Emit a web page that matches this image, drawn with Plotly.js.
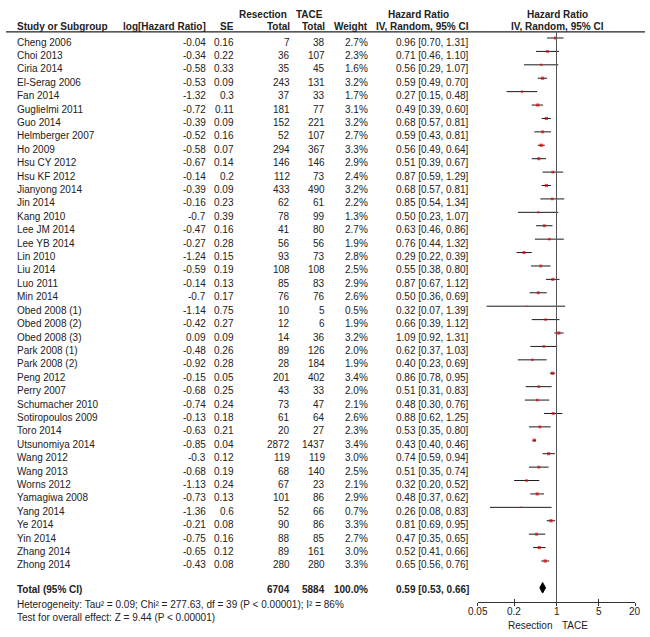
<!DOCTYPE html>
<html>
<head>
<meta charset="utf-8">
<script src="https://cdn.plot.ly/plotly-3.0.1.min.js"></script>
<style>html,body{margin:0;padding:0;background:#fff;}#chart{width:650px;height:637px;}</style>
</head>
<body>
<div id="chart"></div>
<script>
const studies = ["Cheng 2006","Choi 2013","Ciria 2014","El-Serag 2006","Fan 2014","Guglielmi 2011","Guo 2014","Helmberger 2007","Ho 2009","Hsu CY 2012","Hsu KF 2012","Jianyong 2014","Jin 2014","Kang 2010","Lee JM 2014","Lee YB 2014","Lin 2010","Liu 2014","Luo 2011","Min 2014","Obed 2008 (1)","Obed 2008 (2)","Obed 2008 (3)","Park 2008 (1)","Park 2008 (2)","Peng 2012","Perry 2007","Schumacher 2010","Sotiropoulos 2009","Toro 2014","Utsunomiya 2014","Wang 2012","Wang 2013","Worns 2012","Yamagiwa 2008","Yang 2014","Ye 2014","Yin 2014","Zhang 2014","Zhong 2014"];
const logHR = [-0.04,-0.34,-0.58,-0.53,-1.32,-0.72,-0.39,-0.52,-0.58,-0.67,-0.14,-0.39,-0.16,-0.7,-0.47,-0.27,-1.24,-0.59,-0.14,-0.7,-1.14,-0.42,0.09,-0.48,-0.92,-0.15,-0.68,-0.74,-0.13,-0.63,-0.85,-0.3,-0.68,-1.13,-0.73,-1.36,-0.21,-0.75,-0.65,-0.43];
const se = [0.16,0.22,0.33,0.09,0.3,0.11,0.09,0.16,0.07,0.14,0.2,0.09,0.23,0.39,0.16,0.28,0.15,0.19,0.13,0.17,0.75,0.27,0.09,0.26,0.28,0.05,0.25,0.24,0.18,0.21,0.04,0.12,0.19,0.24,0.13,0.6,0.08,0.16,0.12,0.08];
const resectionTotal = [7,36,35,243,37,181,152,52,294,146,112,433,62,78,41,56,93,108,85,76,10,12,14,89,28,201,43,73,61,20,2872,119,68,67,101,52,90,88,89,280];
const taceTotal = [38,107,45,131,33,77,221,107,367,146,73,490,61,99,80,56,73,108,83,76,5,6,36,126,184,402,33,47,64,27,1437,119,140,23,86,66,86,85,161,280];
const weight = [2.7,2.3,1.6,3.2,1.7,3.1,3.2,2.7,3.3,2.9,2.4,3.2,2.2,1.3,2.7,1.9,2.8,2.5,2.9,2.6,0.5,1.9,3.2,2.0,1.9,3.4,2.0,2.1,2.6,2.3,3.4,3.0,2.5,2.1,2.9,0.7,3.3,2.7,3.0,3.3];
const hr = [0.96,0.71,0.56,0.59,0.27,0.49,0.68,0.59,0.56,0.51,0.87,0.68,0.85,0.50,0.63,0.76,0.29,0.55,0.87,0.50,0.32,0.66,1.09,0.62,0.40,0.86,0.51,0.48,0.88,0.53,0.43,0.74,0.51,0.32,0.48,0.26,0.81,0.47,0.52,0.65];
const ciLow = [0.70,0.46,0.29,0.49,0.15,0.39,0.57,0.43,0.49,0.39,0.59,0.57,0.54,0.23,0.46,0.44,0.22,0.38,0.67,0.36,0.07,0.39,0.92,0.37,0.23,0.78,0.31,0.30,0.62,0.35,0.40,0.59,0.35,0.20,0.37,0.08,0.69,0.35,0.41,0.56];
const ciHigh = [1.31,1.10,1.07,0.70,0.48,0.60,0.81,0.81,0.64,0.67,1.29,0.81,1.34,1.07,0.86,1.32,0.39,0.80,1.12,0.69,1.39,1.12,1.31,1.03,0.69,0.95,0.83,0.76,1.25,0.80,0.46,0.94,0.74,0.52,0.62,0.83,0.95,0.65,0.66,0.76];
const totalResection = 6704;
const totalTace = 5884;
const totalWeight = "100.0%";
const totalHR = 0.59, totalLow = 0.53, totalHigh = 0.66;
const heterogeneityText = "Heterogeneity: Tau² = 0.09; Chi² = 277.63, df = 39 (P < 0.00001); I² = 86%";
const overallText = "Test for overall effect: Z = 9.44 (P < 0.00001)";
const tickVals = [0.05, 0.2, 1, 5, 20];
const tickLabels = ["0.05", "0.2", "1", "5", "20"];

const W = 650, H = 637;
const TXT = '#222';
const FONT = 'Liberation Sans, Arial, sans-serif';
const FS = 10;
const px = v => v / W;
const py = v => 1 - v / H;
const rowIdx = studies.map((_, i) => i);
const totalRow = studies.length + 1;

const annotations = [];
function addText(text, x, y, anchor, opts) {
  opts = opts || {};
  annotations.push({
    text: text,
    x: opts.xref === 'x' ? x : px(x), xref: opts.xref || 'paper',
    y: opts.yref === 'y' ? y : py(y), yref: opts.yref || 'paper',
    xanchor: anchor, yanchor: 'middle', showarrow: false,
    yshift: opts.yshift || 0,
    borderpad: 0, borderwidth: 0,
    font: {family: FONT, size: opts.size || FS, color: TXT}
  });
}
// headers
const b = s => '<b>' + s + '</b>';
addText(b('Resection'), 239, 14, 'left');
addText(b('TACE'), 296, 14, 'left');
addText(b('Hazard Ratio'), 418, 14, 'center');
addText(b('Hazard Ratio'), 557, 14, 'center');
addText(b('Study or Subgroup'), 17, 27, 'left');
addText(b('log[Hazard Ratio]'), 206, 27, 'right');
addText(b('SE'), 234, 27, 'right');
addText(b('Total'), 290, 27, 'right');
addText(b('Total'), 325, 27, 'right');
addText(b('Weight'), 368, 27, 'right');
addText(b('IV, Random, 95% CI'), 469, 27, 'right');
addText(b('IV, Random, 95% CI'), 557, 27, 'center');

const ys = -4;
rowIdx.forEach(i => {
  const o = {yref: 'y', yshift: ys};
  addText(studies[i], 17, i, 'left', o);
  addText(String(logHR[i]), 206, i, 'right', o);
  addText(String(se[i]), 234, i, 'right', o);
  addText(String(resectionTotal[i]), 290, i, 'right', o);
  addText(String(taceTotal[i]), 325, i, 'right', o);
  addText(weight[i].toFixed(1) + '%', 368, i, 'right', o);
  addText(hr[i].toFixed(2) + ' [' + ciLow[i].toFixed(2) + ', ' + ciHigh[i].toFixed(2) + ']', 469, i, 'right', o);
});
const ot = {yref: 'y', yshift: -2};
addText(b('Total (95% CI)'), 17, totalRow, 'left', ot);
addText(b(String(totalResection)), 290, totalRow, 'right', ot);
addText(b(String(totalTace)), 325, totalRow, 'right', ot);
addText(b(totalWeight), 368, totalRow, 'right', ot);
addText(b(totalHR.toFixed(2) + ' [' + totalLow.toFixed(2) + ', ' + totalHigh.toFixed(2) + ']'), 469, totalRow, 'right', ot);
addText(heterogeneityText, 17, 604, 'left');
addText(overallText, 17, 617, 'left');
// tick labels (annotation x on a log axis is given in log10 units)
tickVals.forEach((v, k) => addText(tickLabels[k], Math.log10(v), 611.5, 'center', {xref: 'x'}));
addText('Resection', 552, 625, 'right');
addText('TACE', 562, 625, 'left');

const yTop = 32, yBot = 602;
const rowPitch = 13.41, row0 = 38;
const yRange = [(yBot - row0) / rowPitch, (yTop - row0) / rowPitch];
const xDomain = [px(477.7), px(635.3)];
const xRange = [Math.log10(tickVals[0]), Math.log10(tickVals[tickVals.length - 1])];

const studyTrace = {
  type: 'scatter', mode: 'markers', x: hr, y: rowIdx, xaxis: 'x', yaxis: 'y',
  marker: {symbol: 'square', color: '#e00000', size: weight.map(w => 1.8 * Math.sqrt(w)), line: {width: 0}},
  error_x: {type: 'data', symmetric: false,
    array: hr.map((h, i) => ciHigh[i] - h), arrayminus: hr.map((h, i) => h - ciLow[i]),
    width: 0, thickness: 1, color: '#1a1a1a'},
  hoverinfo: 'skip', showlegend: false, cliponaxis: false
};
const dh = 0.395;
const diamond = {
  type: 'scatter', mode: 'lines', xaxis: 'x', yaxis: 'y',
  x: [totalLow, totalHR, totalHigh, totalHR, totalLow],
  y: [totalRow, totalRow - dh, totalRow, totalRow + dh, totalRow],
  fill: 'toself', fillcolor: '#000', line: {color: '#000', width: 1},
  hoverinfo: 'skip', showlegend: false
};
const dummy2 = {type: 'scatter', mode: 'markers', x: [1], y: [0], xaxis: 'x2', yaxis: 'y',
  marker: {opacity: 0}, hoverinfo: 'skip', showlegend: false};

const layout = {
  width: W, height: H, margin: {l: 0, r: 0, t: 0, b: 0},
  paper_bgcolor: '#fff', plot_bgcolor: 'rgba(0,0,0,0)',
  showlegend: false,
  font: {family: FONT, size: FS, color: TXT},
  xaxis: {type: 'log', domain: xDomain, range: xRange, anchor: 'y',
    showgrid: false, zeroline: false, showline: true, linecolor: '#333', linewidth: 1,
    ticks: 'outside', ticklen: 3, tickwidth: 1, tickcolor: '#333',
    tickvals: tickVals, showticklabels: false, fixedrange: true},
  xaxis2: {type: 'log', domain: xDomain, range: xRange, anchor: 'y', overlaying: 'x',
    showgrid: false, zeroline: false, showline: false,
    ticks: 'inside', ticklen: 3, tickwidth: 1, tickcolor: '#333',
    tickvals: tickVals, showticklabels: false, fixedrange: true},
  yaxis: {domain: [py(yBot), py(yTop)], range: yRange, autorange: false,
    visible: false, showgrid: false, zeroline: false, fixedrange: true},
  shapes: [
    {type: 'line', xref: 'paper', yref: 'paper', x0: px(6), x1: px(645), y0: py(31.8), y1: py(31.8),
      line: {color: '#222', width: 1.2}},
    {type: 'line', xref: 'x', yref: 'paper', x0: 1, x1: 1, y0: py(yBot), y1: py(yTop),
      line: {color: '#555', width: 1}}
  ],
  annotations: annotations
};
Plotly.newPlot('chart', [studyTrace, diamond, dummy2], layout, {staticPlot: true, displayModeBar: false});
</script>
</body>
</html>
